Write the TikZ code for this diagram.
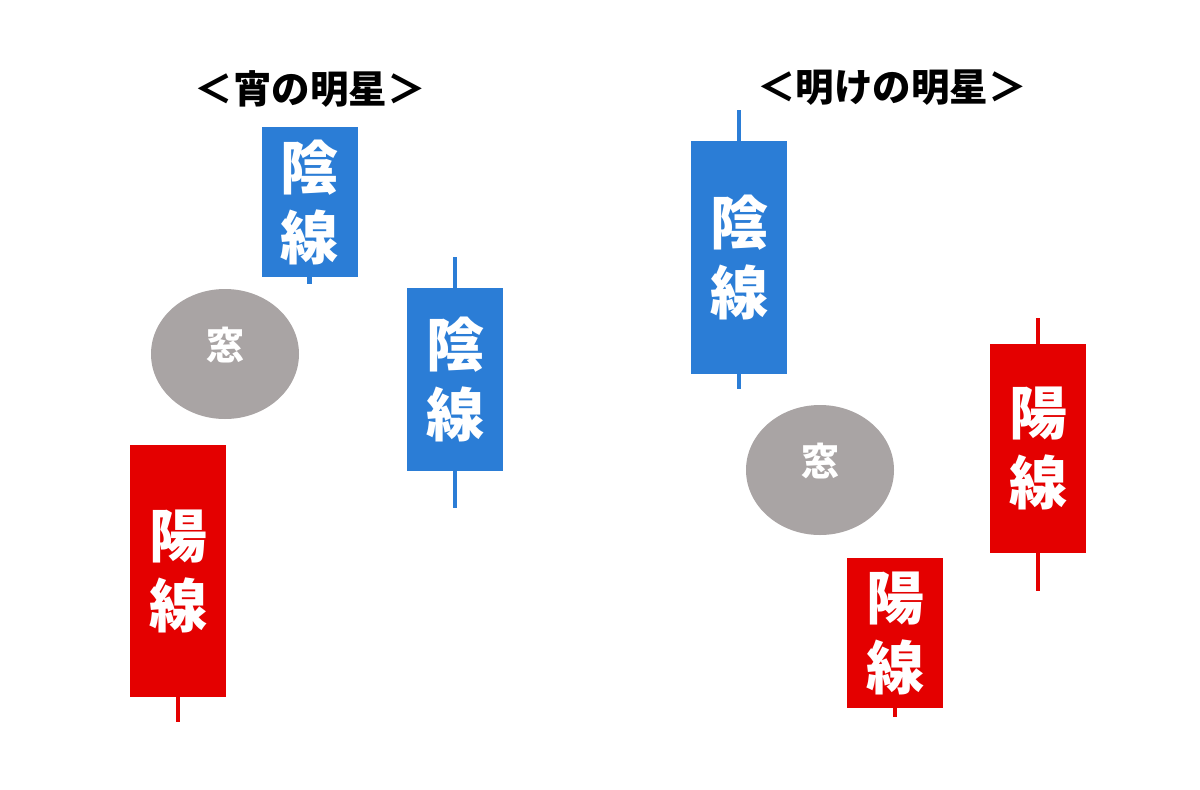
\documentclass[tikz,border=0pt]{standalone}
\usepackage{fontspec}
\newfontfamily\cjk{Noto Sans CJK JP}
\usetikzlibrary{shapes.geometric}
\definecolor{candleblue}{RGB}{43,125,214}
\definecolor{candlered}{RGB}{228,0,0}
\definecolor{windowgray}{RGB}{169,164,164}
\tikzset{
  x=1pt,y=-1pt,
  candle/.style={rectangle,inner sep=0pt,minimum width=96pt,align=center,text=white,
    font=\cjk\bfseries\fontsize{58}{70}\selectfont},
  bluecandle/.style={candle,fill=candleblue},
  redcandle/.style={candle,fill=candlered},
  bluewick/.style={draw=candleblue,line width=4.5pt},
  redwick/.style={draw=candlered,line width=4.5pt},
  window/.style={ellipse,fill=windowgray,inner sep=0pt,minimum width=148pt,minimum height=130pt,
    text=white,font=\cjk\bfseries\fontsize{38}{40}\selectfont},
  titletext/.style={font=\cjk\bfseries\fontsize{38.5}{40}\selectfont,text=black}
}
\begin{document}
\begin{tikzpicture}
\useasboundingbox[fill=white] (0,0) rectangle (1200,790);
% titles
\node[titletext] (t1) at (310,89) {＜宵の明星＞};
\node[titletext] (t2) at (892,88) {＜明けの明星＞};
% left pattern
\node[bluecandle,minimum height=150pt] (b1) at (309.5,202) {陰\\線};
\coordinate (b1w) at (309.5,284);
\draw[bluewick] (b1.south) -- (b1w);
\node[window] (w1) at (225,354) {\raisebox{9pt}[\height][\depth]{窓}};
\node[bluecandle,minimum height=183pt] (b2) at (455,379.5) {陰\\線};
\coordinate (b2t) at (455,257);
\coordinate (b2b) at (455,508);
\draw[bluewick] (b2.north) -- (b2t);
\draw[bluewick] (b2.south) -- (b2b);
\node[redcandle,minimum height=252pt] (r1) at (178,571) {陽\\線};
\coordinate (r1w) at (178,722);
\draw[redwick] (r1.south) -- (r1w);
% right pattern
\node[bluecandle,minimum height=233pt] (b3) at (739,257.5) {陰\\線};
\coordinate (b3t) at (739,110);
\coordinate (b3b) at (739,389);
\draw[bluewick] (b3.north) -- (b3t);
\draw[bluewick] (b3.south) -- (b3b);
\node[window] (w2) at (820,470) {\raisebox{9pt}[\height][\depth]{窓}};
\node[redcandle,minimum height=150pt] (r3) at (895,633) {陽\\線};
\coordinate (r3w) at (895,717);
\draw[redwick] (r3.south) -- (r3w);
\node[redcandle,minimum height=209pt] (r2) at (1038,448.5) {陽\\線};
\coordinate (r2t) at (1038,318);
\coordinate (r2b) at (1038,591);
\draw[redwick] (r2.north) -- (r2t);
\draw[redwick] (r2.south) -- (r2b);
\end{tikzpicture}
\end{document}
